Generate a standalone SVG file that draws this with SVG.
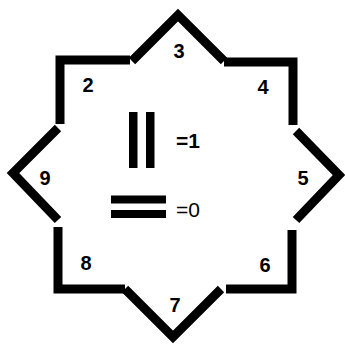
<svg xmlns="http://www.w3.org/2000/svg" width="345" height="344" viewBox="0 0 345 344">
  <style>
    .ln { fill: none; stroke: #000; stroke-width: 9; stroke-linejoin: miter; stroke-linecap: butt; stroke-miterlimit: 4; }
    .num { font-family: "Liberation Sans", Arial, sans-serif; font-size: 20px; font-weight: bold; text-anchor: middle; fill: #000; }
    .key { font-family: "Liberation Sans", Arial, sans-serif; font-size: 21px; fill: #000; }
  </style>
  <rect width="345" height="344" fill="#fff"/>
  <g id="outline">
    <path class="ln" d="M130,60 H60 V124"/>
    <path class="ln" d="M224,62 H293 V125"/>
    <path class="ln" d="M292,230 V289 H226"/>
    <path class="ln" d="M58,227 V289 H125"/>
    <path class="ln" d="M132,61 L178,15 L224,61"/>
    <path class="ln" d="M296,131 L339,175 L296,220"/>
    <path class="ln" d="M125,289 L173,337 L221,289"/>
    <path class="ln" d="M58,128 L13,173 L58,220"/>
  </g>
  <g id="labels">
    <text class="num" x="179" y="58">3</text>
    <text class="num" x="88" y="92">2</text>
    <text class="num" x="263" y="94">4</text>
    <text class="num" x="45" y="185">9</text>
    <text class="num" x="303" y="185">5</text>
    <text class="num" x="86" y="270">8</text>
    <text class="num" x="265" y="272">6</text>
    <text class="num" x="175" y="312">7</text>
  </g>
  <g id="key-one">
    <rect x="129" y="112" width="8.5" height="56" fill="#000"/>
    <rect x="146" y="112" width="8.5" height="56" fill="#000"/>
    <text class="key" x="176" y="148" font-weight="bold">=1</text>
  </g>
  <g id="key-zero">
    <rect x="111" y="195.5" width="55" height="8" fill="#000"/>
    <rect x="111" y="210" width="55" height="8" fill="#000"/>
    <text class="key" x="176" y="217">=0</text>
  </g>
</svg>
